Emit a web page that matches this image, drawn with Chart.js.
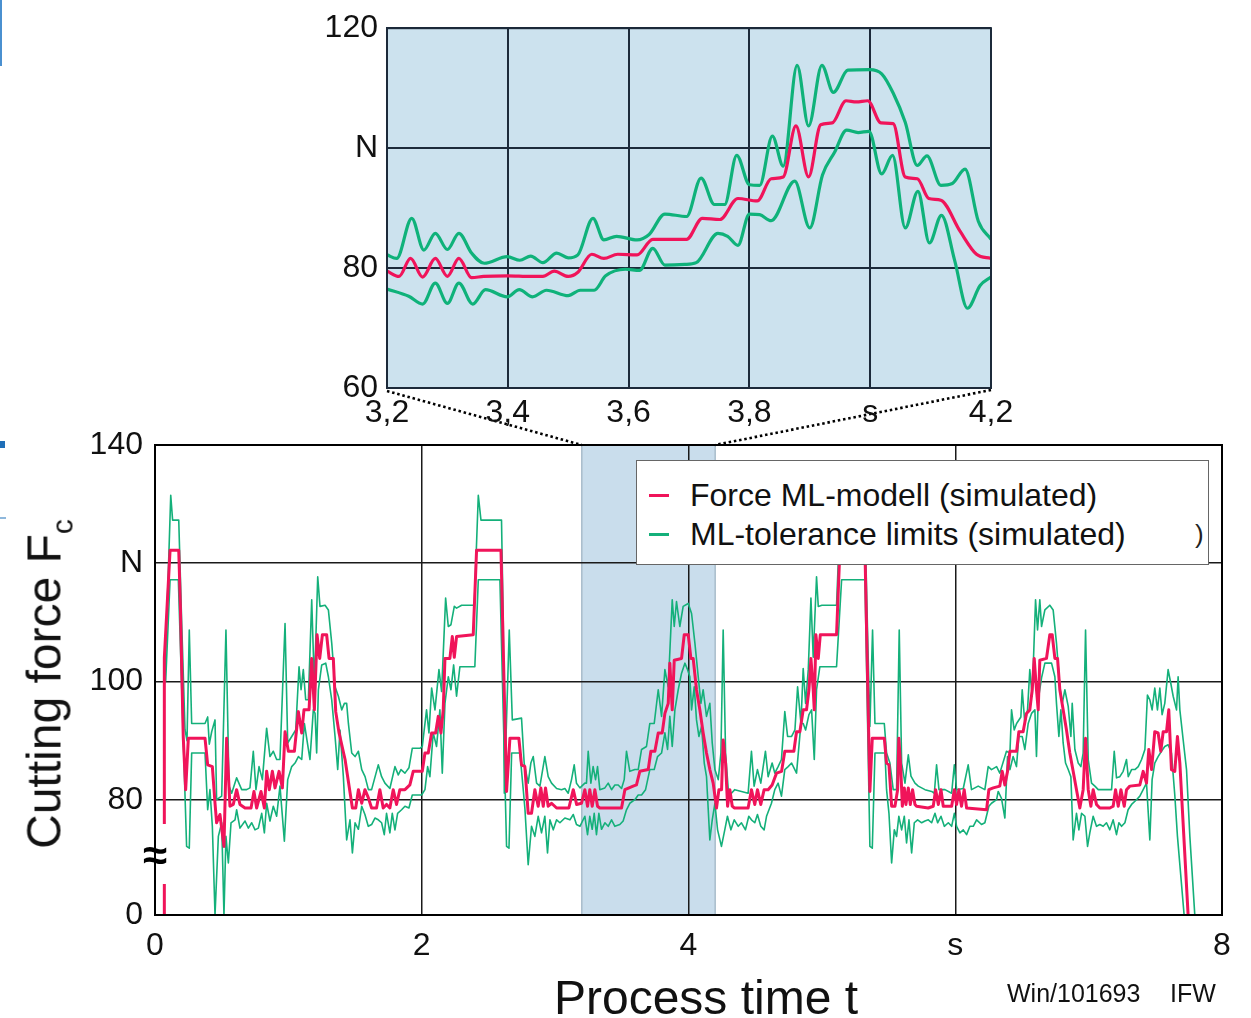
<!DOCTYPE html>
<html><head><meta charset="utf-8">
<script src="https://cdn.jsdelivr.net/npm/chart.js@4.4.1/dist/chart.umd.min.js"></script>
<style>
html,body{margin:0;padding:0;background:#fff;}
body{width:1251px;height:1018px;position:relative;overflow:hidden;font-family:"Liberation Sans",Arial,Helvetica,sans-serif;color:#111;}
canvas{position:absolute;}
#main{left:0;top:0;}
#inset{left:300px;top:0;}
.t{position:absolute;white-space:nowrap;line-height:1;}
#legend{position:absolute;left:636px;top:460px;width:571px;height:103px;border:1px solid #666;background:#fff;}
#legend .row{position:absolute;left:0;height:32px;line-height:32px;font-size:32px;white-space:nowrap;}
#legend .mk{position:absolute;left:12px;top:15px;width:20px;height:3px;}
#legend .tx{position:absolute;left:53px;top:0;}
#ytitle{left:49px;top:684px;font-size:48px;transform:translate(-50%,-50%) rotate(-90deg);}
#ytitle sub{font-size:30px;vertical-align:-12px;}
#xtitle{left:706px;top:998px;font-size:48px;transform:translate(-50%,-50%);}
.note{font-size:25px;top:981px;}
.edge{position:absolute;}
</style></head><body>
<canvas id="main" width="1251" height="1018"></canvas>
<canvas id="inset" width="740" height="440"></canvas>
<div id="legend"></div>
<div class="t" id="ytitle">Cutting force F<sub>c</sub></div>
<div class="t" id="xtitle">Process time t</div>
<div class="t note" style="left:1007px">Win/101693</div>
<div class="t note" style="left:1170px">IFW</div>
<div class="edge" style="left:0;top:0;width:2px;height:66px;background:#4a90d0"></div>
<div class="edge" style="left:0;top:441px;width:5px;height:7px;background:#1f6fb8"></div>
<div class="edge" style="left:0;top:517px;width:6px;height:2px;background:#8fb8dc"></div>
<script>
// ---------- data ----------
const mainXTicks = [0, 2, 4, 6, 8];
const mainXLabels = ['0', '2', '4', 's', '8'];
const mainYTicks = [60.5, 80, 100, 120, 140];
const mainYLabels = ['0', '80', '100', 'N', '140'];
const insetXTicks = [3.2, 3.4, 3.6, 3.8, 4.0, 4.2];
const insetXLabels = ['3,2', '3,4', '3,6', '3,8', 's', '4,2'];
const insetYTicks = [60, 80, 100, 120];
const insetYLabels = ['60', '80', 'N', '120'];
const zoomRange = [3.2, 4.2];
const seriesLabels = ['Force ML-modell (simulated)', 'ML-tolerance limits (simulated)'];

// Force ML model (t [s], Fc [N])
const redPts = [[0.068,0],[0.07,104],[0.113,122.2],[0.178,122.2],[0.19,113],[0.212,90.5],[0.23,81.7],[0.25,90.4],[0.375,90.4],[0.395,85.9],[0.43,85.6],[0.45,79.4],[0.462,76.1],[0.487,77.5],[0.517,72.1],[0.537,90.4],[0.562,78.9],[0.587,79.2],[0.612,81.7],[0.637,79.2],[0.675,78.6],[0.72,78.6],[0.742,81.4],[0.762,78.6],[0.795,81.4],[0.82,78.6],[0.837,84.8],[0.857,81.7],[0.88,84.8],[0.9,82],[0.93,84.8],[0.955,82],[0.975,91.5],[1.0,88.2],[1.045,88.2],[1.075,94.9],[1.1,91.3],[1.117,95.2],[1.155,95.2],[1.175,103.9],[1.195,95.2],[1.215,107.9],[1.235,103.9],[1.255,107.9],[1.287,107.9],[1.305,103.9],[1.337,103.9],[1.355,94.9],[1.38,91.3],[1.425,86.8],[1.48,78.6],[1.505,78.6],[1.525,81.7],[1.55,79.4],[1.574,81.7],[1.6,80.3],[1.624,78.6],[1.661,78.6],[1.686,81.7],[1.711,78.6],[1.736,79.2],[1.761,78.6],[1.786,81.7],[1.811,79.2],[1.836,81.7],[1.874,81.7],[1.911,82.5],[1.936,84.8],[2.004,84.8],[2.024,87.9],[2.049,87.9],[2.074,91.3],[2.104,91.3],[2.124,94.1],[2.144,91.3],[2.161,95.2],[2.174,103.9],[2.211,103.9],[2.229,107.6],[2.244,104.1],[2.261,107.6],[2.386,107.9],[2.411,122.2],[2.594,122.2],[2.636,81.4],[2.661,90.4],[2.728,90.4],[2.748,85.9],[2.773,85.6],[2.798,77.7],[2.823,77.7],[2.848,81.7],[2.873,78.9],[2.893,82],[2.911,78.9],[2.928,82],[2.948,78.9],[2.973,79.4],[3.011,78.6],[3.103,78.6],[3.136,81.7],[3.161,79.2],[3.198,79.4],[3.223,81.7],[3.243,78.9],[3.26,81.7],[3.278,78.9],[3.298,81.7],[3.318,78.9],[3.335,78.6],[3.498,78.6],[3.523,81.7],[3.585,82.3],[3.61,82.5],[3.635,84.8],[3.698,85.1],[3.718,88.2],[3.748,88.2],[3.773,91.3],[3.803,91.3],[3.823,94.6],[3.848,96.3],[3.86,103.1],[3.878,95.2],[3.893,103.6],[3.948,103.9],[3.968,107.9],[3.998,107.9],[4.018,103.9],[4.035,103.9],[4.06,98.6],[4.085,95.2],[4.11,91.3],[4.135,87.9],[4.16,85.1],[4.185,82.8],[4.21,78.6],[4.228,81.7],[4.248,81.7],[4.26,90.1],[4.278,86.2],[4.293,78.9],[4.31,81.7],[4.328,78.9],[4.343,78.6],[4.447,78.6],[4.472,81.7],[4.497,79.2],[4.517,81.7],[4.542,79.2],[4.567,81.7],[4.597,81.7],[4.627,82.5],[4.66,84.5],[4.698,84.8],[4.722,88.2],[4.79,88.2],[4.81,91.5],[4.835,91.5],[4.86,95.2],[4.885,95.2],[4.903,98.6],[4.918,103.9],[4.935,98.6],[4.943,95.2],[4.955,107.9],[4.973,103.9],[4.988,107.9],[5.11,107.9],[5.135,122.2],[5.323,122.2],[5.36,81.4],[5.378,90.4],[5.468,90.4],[5.485,86.2],[5.503,85.9],[5.523,78.9],[5.548,78.9],[5.568,81.7],[5.577,90.4],[5.592,85.1],[5.603,78.9],[5.618,82],[5.63,79.2],[5.648,82],[5.663,79.2],[5.68,81.7],[5.698,79.2],[5.71,78.9],[5.797,78.6],[5.835,78.9],[5.853,81.7],[5.873,79.2],[5.893,81.7],[5.91,78.9],[5.973,78.9],[5.993,81.7],[6.01,79.2],[6.027,81.7],[6.047,78.9],[6.067,81.7],[6.085,78.6],[6.235,78.3],[6.252,81.7],[6.285,82],[6.334,82.3],[6.352,84.8],[6.372,82.5],[6.392,84.8],[6.41,88.2],[6.46,88.2],[6.477,91.5],[6.509,91.5],[6.534,94.6],[6.559,95.2],[6.577,98.6],[6.592,103.9],[6.609,98.6],[6.622,95.2],[6.634,103.6],[6.684,103.9],[6.709,107.9],[6.727,107.9],[6.747,103.9],[6.767,103.9],[6.784,98.6],[6.809,95.2],[6.834,91.8],[6.859,87.9],[6.884,84.8],[6.909,81.7],[6.934,78.6],[6.959,81.7],[6.977,90.4],[6.997,81.7],[7.017,78.9],[7.034,81.7],[7.059,79.2],[7.084,78.6],[7.159,78.6],[7.184,78.9],[7.202,81.7],[7.222,78.9],[7.242,81.7],[7.267,78.9],[7.284,81.7],[7.309,82.3],[7.384,82.5],[7.409,84.8],[7.434,82.8],[7.451,88.5],[7.472,85.1],[7.496,91.5],[7.521,91.3],[7.541,88.2],[7.559,91.5],[7.584,91.5],[7.601,95.2],[7.621,85.1],[7.646,84.8],[7.666,90.7],[7.684,86.2],[7.746,0]];

// Upper tolerance limit
const upperPts = [[0.075,101],[0.118,131.5],[0.132,127.3],[0.178,127.3],[0.2,110],[0.225,91.8],[0.24,90],[0.257,108.7],[0.275,92.9],[0.375,92.9],[0.395,94],[0.407,89.4],[0.425,91.5],[0.45,93.5],[0.462,80],[0.5,80.6],[0.532,108.7],[0.555,82.3],[0.575,81.1],[0.612,83.7],[0.65,81.7],[0.687,81.7],[0.712,82],[0.737,88.2],[0.757,81.7],[0.78,85.6],[0.805,83.4],[0.837,92.1],[0.862,87.3],[0.887,88.2],[0.912,86.8],[0.937,86.8],[0.975,109.8],[0.995,89.6],[1.025,90.7],[1.055,91.8],[1.08,102.5],[1.095,98.6],[1.112,102],[1.13,96.9],[1.15,96.9],[1.175,113.8],[1.195,99.1],[1.22,117.7],[1.237,112.7],[1.275,112.9],[1.3,112.1],[1.325,106.5],[1.35,99.1],[1.375,97.5],[1.4,95.2],[1.42,96.3],[1.437,96.3],[1.45,92.9],[1.475,87.9],[1.5,87.3],[1.525,88.2],[1.55,85.1],[1.575,83.9],[1.6,81.7],[1.624,81.7],[1.674,85.9],[1.699,83.9],[1.724,82.8],[1.761,81.9],[1.799,85.6],[1.824,84.2],[1.844,85.1],[1.874,84.5],[1.904,85.4],[1.929,88.7],[1.986,88.7],[2.004,89],[2.036,95.2],[2.054,91.3],[2.074,98.9],[2.099,95.2],[2.129,102],[2.149,98.3],[2.179,114.1],[2.199,109.3],[2.219,109.6],[2.244,112.7],[2.261,112.4],[2.299,112.9],[2.394,112.9],[2.424,131.5],[2.444,127.3],[2.598,127.3],[2.611,110],[2.619,81.1],[2.656,108.7],[2.679,93.5],[2.748,93.8],[2.768,86.2],[2.798,82.8],[2.818,86.2],[2.836,87.3],[2.861,82.8],[2.886,82.3],[2.923,87.3],[2.948,83.9],[2.973,82.8],[3.011,81.9],[3.048,81.7],[3.073,81.9],[3.098,81.1],[3.123,83.4],[3.143,85.9],[3.16,82.8],[3.186,82],[3.223,82.8],[3.235,82.8],[3.248,88.2],[3.268,82.8],[3.285,85.6],[3.303,83.4],[3.318,85.6],[3.335,81.7],[3.373,82],[3.398,82.8],[3.423,81.7],[3.448,82.5],[3.473,82.5],[3.498,81.9],[3.518,83.4],[3.535,88.2],[3.56,84.8],[3.598,85.1],[3.623,85.1],[3.648,88.5],[3.685,89],[3.71,92.9],[3.743,92.9],[3.773,98.6],[3.798,94.1],[3.823,102],[3.848,99.1],[3.878,113.8],[3.893,109.3],[3.91,113.5],[3.935,109.3],[3.96,112.7],[3.998,113.2],[4.023,111.5],[4.048,106.5],[4.073,100.8],[4.093,96.3],[4.11,98.6],[4.135,94.1],[4.16,96.3],[4.178,89.6],[4.198,85.1],[4.223,83.4],[4.243,87.9],[4.26,108.7],[4.278,87.9],[4.298,81.7],[4.322,81.1],[4.347,81.7],[4.397,81.4],[4.447,81.1],[4.472,88.2],[4.492,82.3],[4.517,85.1],[4.542,82.8],[4.577,88.2],[4.597,83.9],[4.627,86.2],[4.647,84.5],[4.672,85.6],[4.697,86.8],[4.722,94.9],[4.743,90.7],[4.773,90.7],[4.798,91.8],[4.818,99.1],[4.843,92.9],[4.86,102.2],[4.878,96.3],[4.898,102],[4.918,114.1],[4.935,104.1],[4.96,117.7],[4.973,112.7],[5.0,112.9],[5.11,112.9],[5.143,131.5],[5.16,127.3],[5.323,127.3],[5.343,108],[5.36,92.4],[5.38,108.7],[5.398,92.9],[5.468,92.9],[5.485,87.9],[5.51,86.2],[5.535,81.7],[5.56,81.7],[5.58,108.7],[5.598,86.2],[5.623,82.8],[5.648,87.6],[5.668,84],[5.698,82.8],[5.723,82.3],[5.748,82],[5.773,81.7],[5.823,81.4],[5.843,81.1],[5.86,85.9],[5.878,81.7],[5.923,81.7],[5.973,81.1],[5.993,85.9],[6.01,81.7],[6.06,81.9],[6.097,85.9],[6.122,81.7],[6.172,82.3],[6.222,81.7],[6.247,85.6],[6.272,85.1],[6.31,85.6],[6.334,84.5],[6.384,88.2],[6.41,87.9],[6.422,95.2],[6.442,91.8],[6.46,92.9],[6.492,94],[6.502,98.6],[6.522,92.9],[6.542,95.2],[6.559,102],[6.577,97.5],[6.602,113.8],[6.617,108.7],[6.634,113.8],[6.647,109.3],[6.672,112.1],[6.709,112.9],[6.734,112.1],[6.759,106.5],[6.784,99.1],[6.802,96.3],[6.822,98.6],[6.847,95.8],[6.867,90.7],[6.877,96.3],[6.897,88.5],[6.922,86.2],[6.942,85.6],[6.959,87.9],[6.977,108.7],[6.997,86.8],[7.022,82.8],[7.047,82.3],[7.072,81.7],[7.172,81.7],[7.192,88.2],[7.209,83.7],[7.234,83.9],[7.259,84.8],[7.284,86.8],[7.297,83.9],[7.322,85.1],[7.347,85.1],[7.372,85.6],[7.397,86.8],[7.422,88.5],[7.441,97.7],[7.459,96.9],[7.476,95.2],[7.496,98.9],[7.516,95.2],[7.534,98.9],[7.551,94.4],[7.571,96.3],[7.596,102],[7.616,99.7],[7.634,97.5],[7.659,95.2],[7.671,100.8],[7.684,95.2],[7.709,90.1],[7.734,85.1],[7.759,73.8],[7.796,0]];

// Lower tolerance limit
const lowerPts = [[0.08,100],[0.113,117.2],[0.175,117.2],[0.237,72.1],[0.257,71.8],[0.275,87.9],[0.375,87.9],[0.395,78.3],[0.412,81.7],[0.43,75.5],[0.45,0],[0.475,73.8],[0.5,76.1],[0.517,0],[0.532,73.8],[0.55,69.3],[0.57,76.1],[0.6,76.6],[0.612,78.3],[0.637,75.2],[0.675,76.4],[0.7,75.2],[0.725,76.1],[0.75,74.9],[0.775,75.2],[0.8,77.7],[0.82,74.4],[0.837,79.4],[0.862,76.4],[0.887,78.9],[0.912,77.2],[0.937,82.3],[0.97,73],[0.995,83.4],[1.025,85.6],[1.05,86.2],[1.075,87.3],[1.1,86.8],[1.12,92.9],[1.162,86.8],[1.187,95.2],[1.2,94.6],[1.212,87.9],[1.225,98.6],[1.25,102.8],[1.28,103.1],[1.3,100.8],[1.325,96.9],[1.35,90.7],[1.37,85.1],[1.387,91.8],[1.412,84],[1.437,73.2],[1.462,76.6],[1.48,71],[1.5,76.1],[1.525,75],[1.55,78.9],[1.574,77.5],[1.599,75.5],[1.624,75.8],[1.649,76.9],[1.674,76.6],[1.699,76.1],[1.719,74.1],[1.736,77.7],[1.761,74.4],[1.779,77.7],[1.799,74.9],[1.819,77.7],[1.849,78.3],[1.874,78.9],[1.904,78.6],[1.929,80.8],[1.999,80.8],[2.024,81.7],[2.044,85.6],[2.061,83.9],[2.086,91.3],[2.111,89],[2.136,95.2],[2.154,84.5],[2.174,96.3],[2.199,100.8],[2.219,98.6],[2.239,102.8],[2.261,97.5],[2.286,102.5],[2.398,102.5],[2.424,117.2],[2.586,117.2],[2.636,72.1],[2.654,71.8],[2.674,87.9],[2.736,87.9],[2.761,81.7],[2.774,78.3],[2.798,69],[2.823,75.5],[2.848,73.8],[2.873,77.2],[2.898,74.4],[2.923,77.2],[2.943,71],[2.961,76.6],[2.986,74.9],[3.011,76.6],[3.036,76.1],[3.073,76.9],[3.111,76.6],[3.136,77.5],[3.16,75.8],[3.186,75.5],[3.223,77.2],[3.243,74.1],[3.26,77.2],[3.278,75],[3.293,77.7],[3.31,74.1],[3.328,77.7],[3.348,75],[3.373,76.1],[3.398,75.5],[3.423,76.6],[3.448,75.5],[3.485,75.8],[3.51,76.4],[3.535,78.3],[3.56,79.4],[3.598,80],[3.623,80.8],[3.648,80.8],[3.678,81.7],[3.71,85.1],[3.743,85.1],[3.768,87.3],[3.798,87.9],[3.823,91.3],[3.843,88.5],[3.86,94.1],[3.878,89],[3.898,95.2],[3.923,98.6],[3.948,101.4],[3.973,103.1],[3.993,102],[4.01,100.8],[4.023,95.2],[4.043,99.1],[4.06,93.5],[4.078,90.7],[4.098,92.4],[4.118,86.2],[4.135,83.9],[4.16,73.2],[4.178,76.6],[4.198,79.4],[4.218,74.9],[4.247,72.1],[4.272,74.9],[4.292,77.2],[4.318,74.9],[4.343,76.6],[4.373,75.5],[4.397,76.1],[4.427,74.9],[4.452,77.2],[4.472,76.6],[4.497,76.1],[4.517,77.5],[4.542,75.5],[4.567,74.9],[4.585,77.2],[4.622,79.4],[4.647,81.7],[4.672,82.8],[4.697,80.6],[4.722,85.1],[4.747,85.6],[4.773,86.2],[4.81,84.5],[4.843,92.9],[4.86,92.9],[4.878,91.8],[4.903,94.4],[4.923,95.2],[4.943,86.8],[4.96,98.6],[4.985,102.5],[5.11,102.5],[5.148,117.2],[5.323,117.2],[5.36,72.1],[5.378,71.8],[5.398,87.9],[5.473,87.9],[5.485,81.7],[5.503,77.7],[5.523,69.3],[5.543,74.9],[5.56,73.8],[5.577,77.2],[5.598,74.9],[5.618,77.2],[5.635,72.7],[5.653,76.6],[5.673,71],[5.693,76.1],[5.718,76.6],[5.748,76.1],[5.773,76.4],[5.798,76.6],[5.823,76.1],[5.848,77.7],[5.868,76.1],[5.893,77.2],[5.918,75.5],[5.948,76.1],[5.973,75.5],[5.993,77.7],[6.01,75.5],[6.035,74.4],[6.06,74.9],[6.085,74.1],[6.11,75.5],[6.135,75.5],[6.16,76.6],[6.197,75.8],[6.222,76.1],[6.252,78.9],[6.272,79.4],[6.31,80],[6.322,81.4],[6.347,80.2],[6.372,76.9],[6.392,87.3],[6.41,85.1],[6.434,87.3],[6.459,85.6],[6.477,90.7],[6.502,90.7],[6.522,88.5],[6.547,92.9],[6.572,94.6],[6.597,95.2],[6.609,87.3],[6.622,96.9],[6.647,100.6],[6.672,103.1],[6.722,103.1],[6.747,100.8],[6.759,96.3],[6.777,90.7],[6.792,95.2],[6.809,89.6],[6.827,86.2],[6.847,85.1],[6.867,83.9],[6.884,73.2],[6.909,77.7],[6.927,74.9],[6.947,77.7],[6.972,77.2],[6.992,72.1],[7.009,74.4],[7.034,77.2],[7.059,75.5],[7.084,75.8],[7.109,75.5],[7.134,76.1],[7.159,74.9],[7.184,76.6],[7.209,74.1],[7.227,76.1],[7.247,75.5],[7.272,76.1],[7.296,78.3],[7.322,79.2],[7.359,80],[7.384,80.6],[7.409,81.7],[7.434,82.8],[7.459,73.2],[7.476,83.4],[7.496,86.2],[7.521,87.3],[7.546,88.2],[7.571,89],[7.596,89.3],[7.621,87.9],[7.646,80.8],[7.666,73.8],[7.716,0]];

// Zoomed detail 3.2 ... 4.2 s
const insetRedPts = [[3.2,79.5],[3.22,78.6],[3.239,81.6],[3.259,78.5],[3.28,81.6],[3.3,78.6],[3.319,81.6],[3.34,78.4],[3.36,78.6],[3.399,78.7],[3.438,78.6],[3.458,78.6],[3.477,79.5],[3.5,78.6],[3.516,79.3],[3.539,82.3],[3.559,81.6],[3.582,82.3],[3.614,82.2],[3.64,84.8],[3.673,84.8],[3.696,84.8],[3.722,88.3],[3.751,88.1],[3.781,91.6],[3.813,91.2],[3.836,94.9],[3.856,95.2],[3.877,103.7],[3.898,95.2],[3.918,103.9],[3.937,104.2],[3.96,107.9],[3.977,107.7],[3.996,107.9],[4.018,104.2],[4.038,104.1],[4.058,95.2],[4.078,94.9],[4.097,91.6],[4.117,91.3],[4.149,86.1],[4.176,82.3],[4.2,81.6]];
const insetUpperPts = [[3.2,82.2],[3.216,81.6],[3.241,88.3],[3.261,83],[3.28,85.8],[3.3,83.1],[3.319,85.8],[3.34,82.5],[3.361,80.8],[3.399,81.9],[3.42,81.3],[3.438,82],[3.458,80.9],[3.481,82.5],[3.5,81.7],[3.516,82.2],[3.541,88.3],[3.559,84.7],[3.58,85.3],[3.614,84.7],[3.634,85.6],[3.66,89],[3.696,88.6],[3.72,95],[3.742,90.6],[3.759,90.6],[3.779,98.8],[3.8,93.9],[3.817,93.8],[3.838,102],[3.856,97],[3.879,113.8],[3.898,103.7],[3.92,113.8],[3.939,109.3],[3.963,113],[3.999,113.1],[4.019,112.4],[4.038,109.2],[4.058,104.3],[4.078,97.1],[4.094,98.7],[4.117,93.8],[4.136,94.1],[4.157,96.5],[4.179,87.8],[4.2,84.8]];
const insetLowerPts = [[3.2,76.5],[3.236,75.3],[3.259,74],[3.28,77.5],[3.3,74.1],[3.319,77.5],[3.342,74],[3.363,76.4],[3.399,75.2],[3.419,76.4],[3.441,75.2],[3.464,76.3],[3.5,75.4],[3.52,76.3],[3.543,76.3],[3.562,78.7],[3.595,79.8],[3.618,79.6],[3.64,83.3],[3.66,80.5],[3.693,80.6],[3.712,80.9],[3.748,85.8],[3.764,85.3],[3.781,83.8],[3.8,89],[3.817,88.9],[3.836,87.9],[3.875,94.5],[3.9,86.7],[3.921,95.5],[3.941,99.3],[3.961,103],[3.98,102.6],[3.998,102.8],[4.019,95.7],[4.037,98.8],[4.058,86.7],[4.079,92.8],[4.098,84.2],[4.118,88.8],[4.14,81.2],[4.161,73.3],[4.182,77.1],[4.2,78.5]];

// ---------- styles ----------
const RED = '#f0145a';
const GREEN = '#14b07a';
const INSET_GREEN = '#0fb27a';
const NAVY = '#1c2a3a';
const BAND = '#c9ddec';
const BAND_EDGE = '#a9bccb';
const INSET_BG = '#cce2ee';
const FONT = '"Liberation Sans", Arial, Helvetica, sans-serif';
const TICK_SIZE = 32;

Chart.defaults.font.family = FONT;
Chart.defaults.color = '#111';
Chart.defaults.animation = false;

// linear scale with axis break: values below the visible minimum are drawn on the "0" baseline
class BrokenLinearScale extends Chart.LinearScale {
  getPixelForValue(value, index) {
    const v = (typeof value === 'number' && value < this.min) ? this.min : value;
    return super.getPixelForValue(v, index);
  }
}
BrokenLinearScale.id = 'brokenLinear';
BrokenLinearScale.defaults = Chart.LinearScale.defaults;
Chart.register(BrokenLinearScale);

const toXY = pts => pts.map(p => ({x: p[0], y: p[1]}));

// ---------- inset ----------
const insetCanvas = document.getElementById('inset');
const insetDeco = {
  id: 'insetDeco',
  beforeDraw(chart) {
    const {ctx, chartArea: a} = chart;
    ctx.save();
    ctx.fillStyle = INSET_BG;
    ctx.fillRect(a.left, a.top, a.width, a.height);
    ctx.restore();
  },
  afterDatasetsDraw(chart) {
    const {ctx, chartArea: a} = chart;
    ctx.save();
    ctx.strokeStyle = NAVY;
    ctx.lineWidth = 2;
    ctx.strokeRect(a.left, a.top, a.width, a.height);
    ctx.restore();
  }
};
const insetLine = (label, pts, color) => ({
  label, data: toXY(pts), borderColor: color, backgroundColor: color,
  borderWidth: 3.2, pointRadius: 0, cubicInterpolationMode: 'monotone', fill: false
});
const insetChart = new Chart(insetCanvas, {
  type: 'line',
  data: {datasets: [
    insetLine(seriesLabels[0], insetRedPts, RED),
    insetLine(seriesLabels[1], insetUpperPts, INSET_GREEN),
    insetLine(seriesLabels[1], insetLowerPts, INSET_GREEN)
  ]},
  options: {
    responsive: false, animation: false, devicePixelRatio: 1,
    layout: {padding: {left: 0, top: 24, right: 49, bottom: 12}},
    plugins: {legend: {display: false}, tooltip: {enabled: false}},
    events: [],
    scales: {
      x: {
        type: 'linear', min: insetXTicks[0], max: insetXTicks[insetXTicks.length - 1],
        afterFit: s => { s.height = 40; },
        afterBuildTicks: s => { s.ticks = insetXTicks.map(v => ({value: v})); },
        ticks: {callback: (v, i) => insetXLabels[i], font: {size: TICK_SIZE}, padding: 6, autoSkip: false, maxRotation: 0, color: '#111'},
        grid: {color: NAVY, lineWidth: 2, drawTicks: false},
        border: {display: true, color: NAVY, width: 2}
      },
      y: {
        type: 'linear', min: insetYTicks[0], max: insetYTicks[insetYTicks.length - 1],
        afterFit: s => { s.width = 87; },
        afterBuildTicks: s => { s.ticks = insetYTicks.map(v => ({value: v})); },
        ticks: {callback: (v, i) => insetYLabels[i], font: {size: TICK_SIZE}, padding: 9, autoSkip: false, color: '#111'},
        grid: {color: NAVY, lineWidth: 2, drawTicks: false},
        border: {display: true, color: NAVY, width: 2}
      }
    }
  },
  plugins: [insetDeco]
});

// ---------- main ----------
const mainDeco = {
  id: 'mainDeco',
  beforeDraw(chart) {
    const {ctx, chartArea: a, scales: {x}} = chart;
    const x0 = x.getPixelForValue(zoomRange[0]);
    const x1 = x.getPixelForValue(zoomRange[1]);
    ctx.save();
    ctx.fillStyle = BAND;
    ctx.fillRect(x0, a.top, x1 - x0, a.height);
    ctx.strokeStyle = BAND_EDGE;
    ctx.lineWidth = 1.5;
    ctx.beginPath();
    ctx.moveTo(x0, a.top); ctx.lineTo(x0, a.bottom);
    ctx.moveTo(x1, a.top); ctx.lineTo(x1, a.bottom);
    ctx.stroke();
    ctx.restore();
  },
  afterDatasetsDraw(chart) {
    const {ctx, chartArea: a, scales: {x}} = chart;
    ctx.save();
    // axis break
    ctx.fillStyle = '#fff';
    ctx.fillRect(a.left + 2, 824, 22, 60);
    // frame
    ctx.strokeStyle = '#000';
    ctx.lineWidth = 2;
    ctx.strokeRect(a.left, a.top, a.width, a.height);
    ctx.fillStyle = '#000';
    ctx.font = 'bold 44px ' + FONT;
    ctx.textAlign = 'center';
    ctx.textBaseline = 'middle';
    ctx.fillText('\u2248', a.left, 858);
    // dotted connectors from inset to zoom band
    const ia = insetChart.chartArea;
    const ox = insetCanvas.offsetLeft, oy = insetCanvas.offsetTop;
    const x0 = x.getPixelForValue(zoomRange[0]);
    const x1 = x.getPixelForValue(zoomRange[1]);
    ctx.strokeStyle = '#000';
    ctx.lineWidth = 2.6;
    ctx.setLineDash([2.5, 2.8]);
    ctx.beginPath();
    ctx.moveTo(ox + ia.left, oy + ia.bottom + 3);
    ctx.lineTo(x0, a.top);
    ctx.moveTo(ox + ia.right, oy + ia.bottom + 2);
    ctx.lineTo(x1, a.top);
    ctx.stroke();
    ctx.restore();
  }
};
const mainLine = (label, pts, color, w) => ({
  label, data: toXY(pts), borderColor: color, backgroundColor: color,
  borderWidth: w, pointRadius: 0, tension: 0, fill: false, borderJoinStyle: 'round'
});
const mainChart = new Chart(document.getElementById('main'), {
  type: 'line',
  data: {datasets: [
    mainLine(seriesLabels[0], redPts, RED, 3),
    mainLine(seriesLabels[1], upperPts, GREEN, 1.6),
    mainLine(seriesLabels[1], lowerPts, GREEN, 1.6)
  ]},
  options: {
    responsive: false, animation: false, devicePixelRatio: 1,
    layout: {padding: {left: 0, top: 445, right: 29, bottom: 43}},
    plugins: {legend: {display: false}, tooltip: {enabled: false}},
    events: [],
    scales: {
      x: {
        type: 'linear', min: mainXTicks[0], max: mainXTicks[mainXTicks.length - 1],
        afterFit: s => { s.height = 60; },
        afterBuildTicks: s => { s.ticks = mainXTicks.map(v => ({value: v})); },
        ticks: {callback: (v, i) => mainXLabels[i], font: {size: TICK_SIZE}, padding: 12, autoSkip: false, maxRotation: 0, color: '#111'},
        grid: {color: '#1a1a1a', lineWidth: 1.5, drawTicks: false},
        border: {display: true, color: '#000', width: 2}
      },
      y: {
        type: 'brokenLinear', min: mainYTicks[0], max: mainYTicks[mainYTicks.length - 1],
        afterFit: s => { s.width = 155; },
        afterBuildTicks: s => { s.ticks = mainYTicks.map(v => ({value: v})); },
        ticks: {callback: (v, i) => mainYLabels[i], font: {size: TICK_SIZE}, padding: 12, autoSkip: false, color: '#111'},
        grid: {color: '#1a1a1a', lineWidth: 1.5, drawTicks: false},
        border: {display: true, color: '#000', width: 2}
      }
    }
  },
  plugins: [mainDeco]
});

// ---------- HTML legend generated from the chart ----------
(function buildLegend() {
  const box = document.getElementById('legend');
  const items = mainChart.options.plugins.legend.labels.generateLabels(mainChart)
    .filter(it => it.datasetIndex !== 2);
  items.forEach((it, i) => {
    const row = document.createElement('div');
    row.className = 'row';
    row.style.top = (18 + i * 39) + 'px';
    const mk = document.createElement('span');
    mk.className = 'mk';
    mk.style.background = it.strokeStyle;
    const tx = document.createElement('span');
    tx.className = 'tx';
    tx.textContent = it.text;
    row.appendChild(mk); row.appendChild(tx);
    box.appendChild(row);
  });
  const stray = document.createElement('span');
  stray.textContent = ')';
  stray.style.cssText = 'position:absolute;left:558px;top:58px;font-size:26px;line-height:30px;color:#222;';
  box.appendChild(stray);
})();
</script>
</body></html>
